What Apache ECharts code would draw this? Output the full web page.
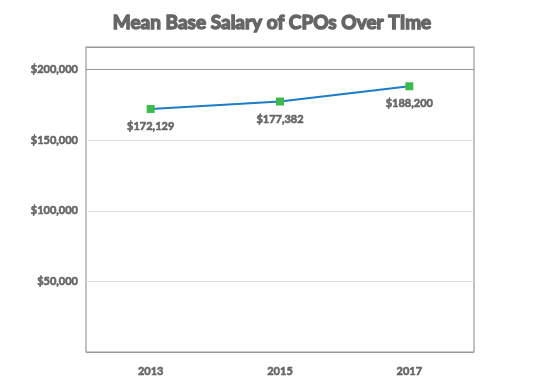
<!DOCTYPE html>
<html><head><meta charset="utf-8">
<script src="https://cdn.jsdelivr.net/npm/echarts@6/dist/echarts.min.js"></script>
<style>html,body{margin:0;padding:0;background:#fff}#c{width:544px;height:391px}</style>
</head><body><div id="c"></div>
<script>
const years = ['2013', '2015', '2017'];
const salaries = [172129, 177382, 188200];
const yTicks = [0, 50000, 100000, 150000, 200000];

const fmt = v => '$' + v.toLocaleString('en-US');
const heavy = {fontFamily: 'Lato', fontWeight: 'bold', color: '#666', textBorderColor: '#666', textBorderWidth: 0.6};
const chart = echarts.init(document.getElementById('c'), null, {renderer: 'canvas'});
chart.setOption({
  animation: false,
  backgroundColor: '#fff',
  title: {
    text: 'Mean Base Salary of CPOs Over TIme',
    left: 'center', top: 8,
    textStyle: Object.assign({}, heavy, {fontSize: 19, textBorderWidth: 1.4})
  },
  grid: {left: 86, right: 70, top: 47, bottom: 39, show: true, borderColor: '#999', borderWidth: 1.2, backgroundColor: 'transparent'},
  xAxis: {
    type: 'category', data: years, boundaryGap: true,
    axisLine: {show: false}, axisTick: {show: false},
    axisLabel: Object.assign({margin: 14, fontSize: 11}, heavy)
  },
  yAxis: {
    type: 'value', min: yTicks[0], max: 216000, interval: 50000,
    axisLine: {show: false}, axisTick: {show: false},
    axisLabel: Object.assign({showMinLabel: false, showMaxLabel: false, margin: 8, fontSize: 11,
      formatter: v => (v === 0 || v > 200000) ? '' : fmt(v)}, heavy),
    splitLine: {show: true, lineStyle: {color: ['#999', '#ddd', '#ddd', '#ddd', '#999'], width: 1.2}}
  },
  series: [{
    type: 'line', data: salaries,
    symbol: 'rect', symbolSize: 8,
    lineStyle: {color: '#1c7cc4', width: 2},
    itemStyle: {color: '#3dba4e'},
    label: Object.assign({show: true, position: 'bottom', distance: 8, formatter: p => fmt(p.value), fontSize: 11}, heavy)
  }]
});
</script></body></html>
